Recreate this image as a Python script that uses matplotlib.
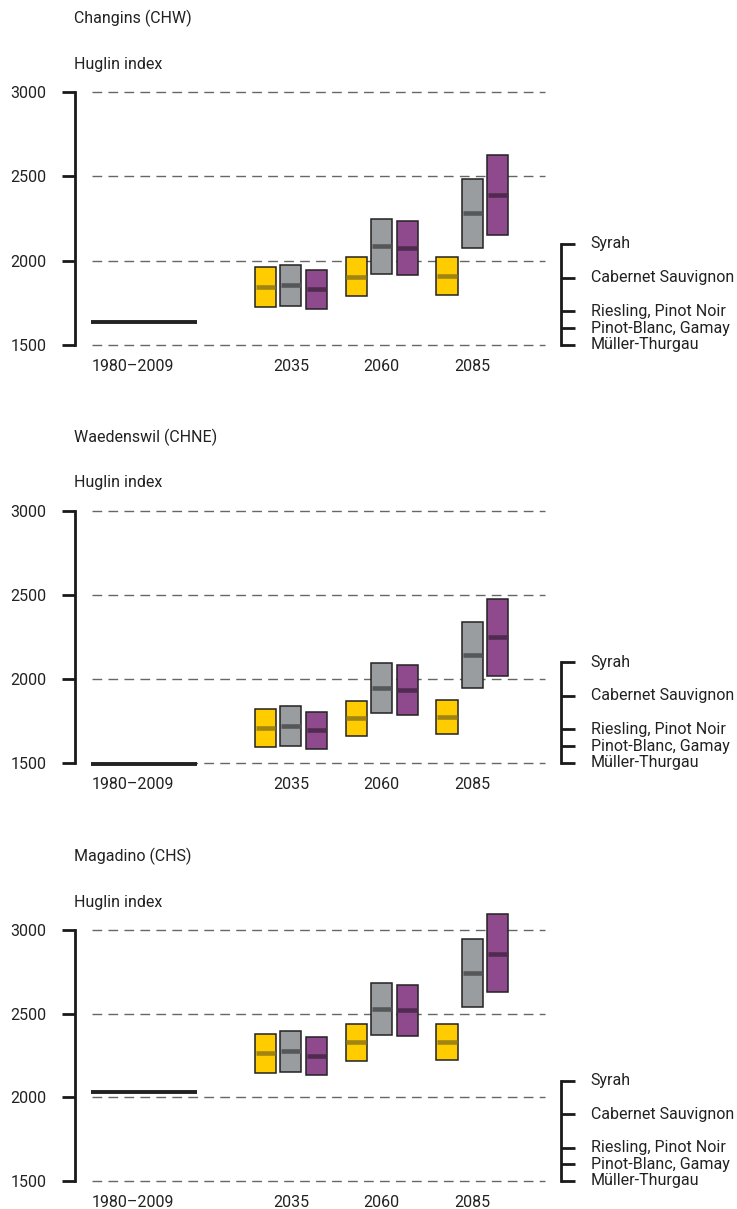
import matplotlib
matplotlib.use("Agg")
import matplotlib.pyplot as plt
from matplotlib.transforms import blended_transform_factory

plt.rcParams['font.family'] = ['Roboto', 'DejaVu Sans']

# ---------------- data ----------------
stations = ['Changins (CHW)', 'Waedenswil (CHNE)', 'Magadino (CHS)']
periods = ['2035', '2060', '2085']
period_x = [2035, 2060, 2085]
baseline_label = '1980–2009'
baseline_span = [1980, 2009]
baseline_values = [1636, 1497, 2032]

# scenario order: yellow, grey, purple
chw_low = [[1724, 1791, 1799], [1731, 1923, 2075], [1716, 1917, 2154]]
chw_med = [[1844, 1903, 1911], [1854, 2087, 2283], [1830, 2077, 2389]]
chw_high = [[1963, 2020, 2020], [1976, 2249, 2486], [1945, 2237, 2625]]

chne_low = [[1593, 1663, 1671], [1601, 1796, 1944], [1585, 1788, 2020]]
chne_med = [[1708, 1766, 1774], [1720, 1944, 2141], [1696, 1937, 2248]]
chne_high = [[1821, 1869, 1875], [1838, 2097, 2341], [1804, 2083, 2476]]

chs_low = [[2143, 2220, 2224], [2152, 2375, 2537], [2135, 2367, 2629]]
chs_med = [[2262, 2329, 2333], [2274, 2530, 2744], [2248, 2520, 2859]]
chs_high = [[2379, 2438, 2440], [2396, 2686, 2944], [2361, 2673, 3093]]

lows = [chw_low, chne_low, chs_low]
meds = [chw_med, chne_med, chs_med]
highs = [chw_high, chne_high, chs_high]

yticks = [1500, 2000, 2500, 3000]
grape_labels = ['Müller-Thurgau', 'Pinot-Blanc, Gamay', 'Riesling, Pinot Noir',
                'Cabernet Sauvignon', 'Syrah']
grape_values = [1500, 1600, 1700, 1900, 2100]

fill_colors = ['#FFCC00', '#9A9D9F', '#8F4A8E']
med_colors = ['#A08512', '#555758', '#502B50']
offsets = [-7, 0, 7]
box_w = 5.8
TXT = '#222222'
FS = 11.5

# ---------------- figure ----------------
W, H = 737, 1209
fig = plt.figure(figsize=(W / 100, H / 100), dpi=100)

panel_px = [(92, 345), (511, 763), (930, 1181)]  # (top, bottom) pixel rows of 3000 / 1500
x0_px, x1_px = 75, 545
xlim = (1975.5, 2105)

for i, st in enumerate(stations):
    top, bot = panel_px[i]
    ax = fig.add_axes([x0_px / W, 1 - bot / H, (x1_px - x0_px) / W, (bot - top) / H])
    ax.set_xlim(*xlim)
    ax.set_ylim(1500, 3000)
    for s in ['top', 'right', 'bottom']:
        ax.spines[s].set_visible(False)
    ax.spines['left'].set_linewidth(2.0)
    ax.spines['left'].set_color('#1a1a1a')
    ax.set_xticks([])
    ax.set_yticks(yticks)
    ax.set_yticklabels([str(v) for v in yticks])
    ax.tick_params(axis='y', length=9.5, width=2.0, color='#1a1a1a', pad=11,
                   labelsize=FS, labelcolor=TXT)
    ax.patch.set_visible(False)

    # grid
    for v in yticks:
        ax.plot([1980.2, 2105], [v, v], color='#666666', lw=1.0,
                ls=(0, (7, 4.5)), zorder=1, clip_on=False)

    # baseline
    ax.plot(baseline_span, [baseline_values[i]] * 2, color='#222222', lw=2.8,
            solid_capstyle='butt', zorder=3, clip_on=False)

    # boxes
    for s in range(3):
        for p in range(3):
            xc = period_x[p] + offsets[s]
            lo, md, hi = lows[i][s][p], meds[i][s][p], highs[i][s][p]
            ax.bar(xc, hi - lo, bottom=lo, width=box_w, color=fill_colors[s],
                   edgecolor='#222222', linewidth=1.1, zorder=4, clip_on=False)
            ax.plot([xc - box_w / 2 + 0.2, xc + box_w / 2 - 0.2], [md, md],
                    color=med_colors[s], lw=3.3, solid_capstyle='butt',
                    zorder=5, clip_on=False)

    # x labels
    tr = blended_transform_factory(ax.transData, ax.transAxes)
    ax.annotate(baseline_label, xy=(baseline_span[0], 0), xycoords=tr,
                xytext=(0, -15.5), textcoords='offset points', ha='left',
                va='center', fontsize=FS, color=TXT)
    for p in range(3):
        ax.annotate(periods[p], xy=(period_x[p], 0), xycoords=tr,
                    xytext=(0, -15.5), textcoords='offset points', ha='center',
                    va='center', fontsize=FS, color=TXT)

    # titles
    fig.text(74 / W, 1 - (top - 74) / H, st, ha='left', va='center',
             fontsize=FS, color=TXT)
    fig.text(74 / W, 1 - (top - 28) / H, 'Huglin index', ha='left', va='center',
             fontsize=FS, color=TXT)

    # grape bracket
    bx = 2109.3
    tx = 2113.3
    ax.plot([bx, bx], [grape_values[0], grape_values[-1]], color='#1a1a1a',
            lw=2.0, clip_on=False, solid_capstyle='projecting')
    for g, v in zip(grape_labels, grape_values):
        ax.plot([bx, tx], [v, v], color='#1a1a1a', lw=2.0, clip_on=False,
                solid_capstyle='butt')
        ax.text(2117.6, v, g, ha='left', va='center', fontsize=FS, color=TXT,
                clip_on=False)

fig.savefig('out.png', dpi=100)
